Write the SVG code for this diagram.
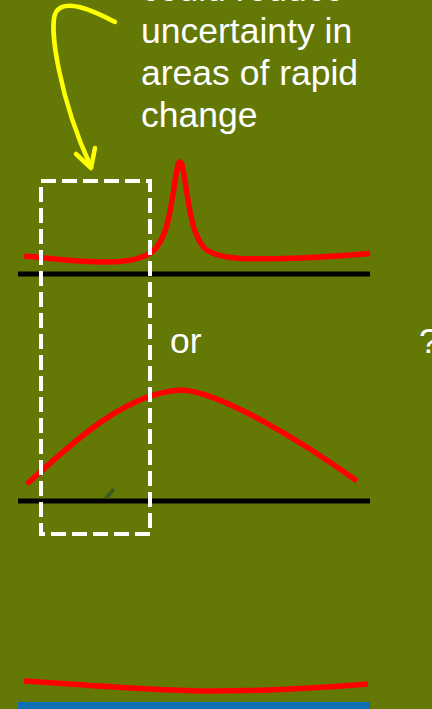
<svg xmlns="http://www.w3.org/2000/svg" width="432" height="709" viewBox="0 0 432 709">
<style>
.lbl{font-family:"Liberation Sans",Arial,sans-serif;font-size:35.5px;fill:#ffffff}
.red{fill:none;stroke:#ff0000;stroke-width:5.5;stroke-linejoin:round}
.axis{stroke:#000000;stroke-width:5}
</style>
<rect width="432" height="709" fill="#647806"/>
<g id="caption">
<text class="lbl" x="141" y="1">could reduce</text>
<text class="lbl" x="141" y="43">uncertainty in</text>
<text class="lbl" x="141" y="85">areas of rapid</text>
<text class="lbl" x="141" y="127">change</text>
</g>
<g id="top-plot">
<line class="axis" x1="18" y1="274" x2="370" y2="274"/>
<path class="red" d="M24,256 C60,259 95,264 125,261 C138,259.5 146,256 152,252 L156,248 L160,242 L163,236 L165,231 L167,225 L170,211.5 L173,194 L175,181 L176,174.6 L178,164.5 C179,161 181,161 182,164.5 L184,174.6 L185,181 L187,194 L190,211.5 L193,225 L195,231 L197,236 L200,242 L204,248 C210,253 220,257 240,258.5 C280,259.5 330,257 370,253.5"/>
</g>
<g id="or-label">
<text class="lbl" x="170" y="353">or</text>
<text class="lbl" x="419" y="353">?</text>
</g>
<g id="middle-plot">
<line class="axis" x1="18" y1="501" x2="370" y2="501"/>
<path class="red" d="M27,484 C70,445 125,392 182,390 C220,392 300,440 357,481"/>
<line x1="106" y1="498" x2="114" y2="489" stroke="#3a5a22" stroke-width="4"/>
</g>
<g id="bottom-plot">
<path class="red" d="M24,681 C100,686 160,691 210,691 C270,691 320,688 368,684"/>
<rect x="18" y="702" width="352" height="7" fill="#0e6fb2"/>
</g>
<g id="window">
<rect x="41" y="181" width="109" height="353" fill="none" stroke="#ffffff" stroke-width="4" stroke-dasharray="15 6"/>
</g>
<g id="connectors">
<path d="M115,22 C92,10 65,-2 56,12 C48,26 60,100 91,167" fill="none" stroke="#ffff00" stroke-width="4.5" stroke-linecap="round"/>
<path d="M76,154 L91,168 L95,148" fill="none" stroke="#ffff00" stroke-width="4.5" stroke-linecap="round" stroke-linejoin="round"/>
</g>
</svg>
